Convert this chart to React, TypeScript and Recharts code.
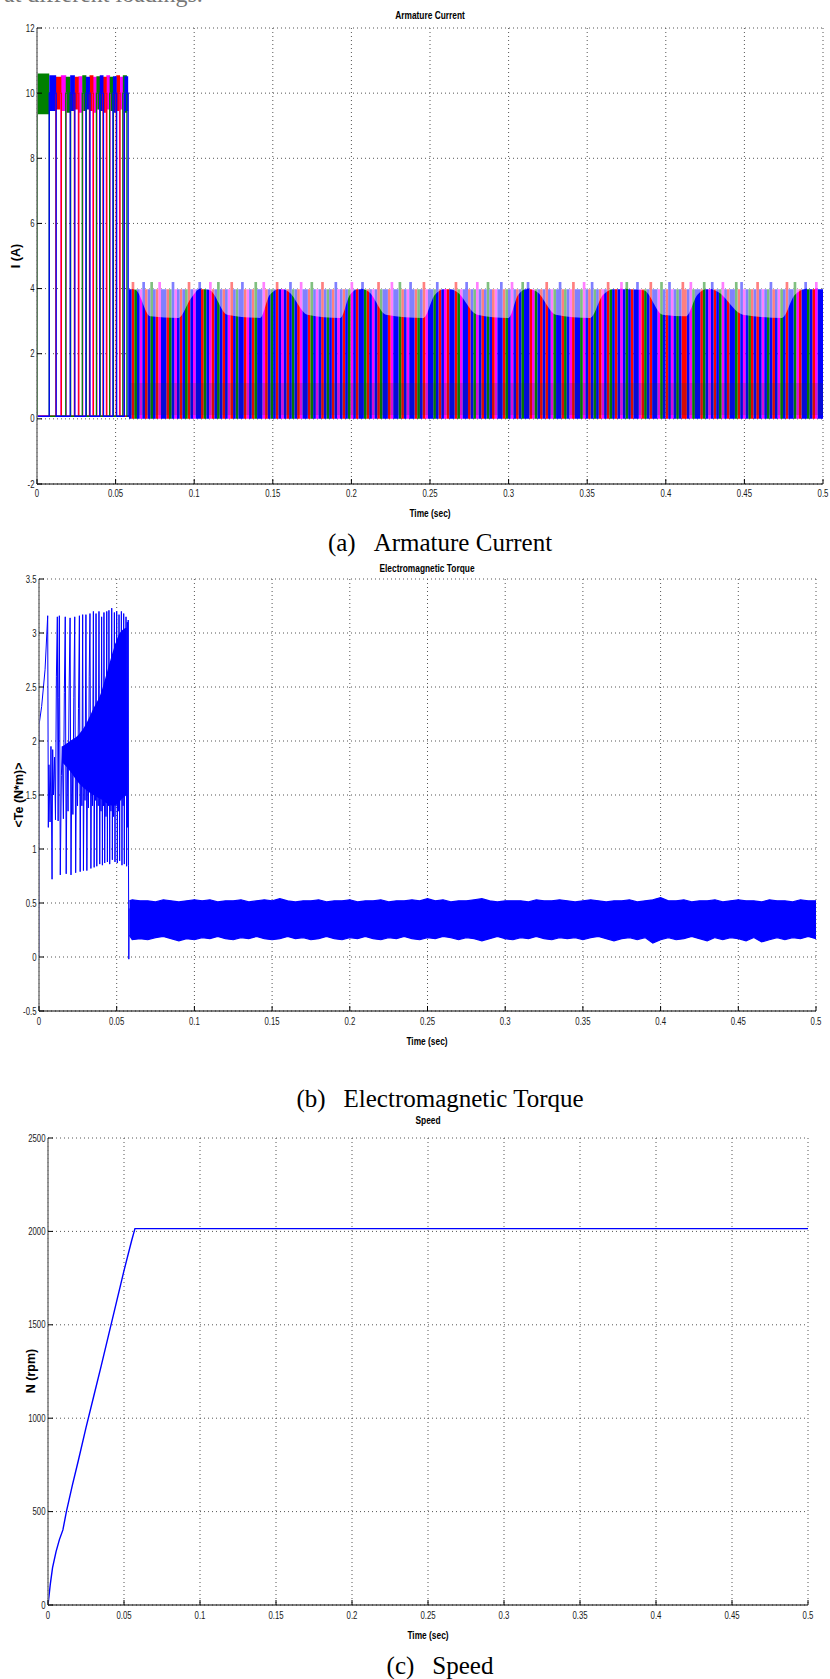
import React from 'react';
import { ComposedChart, Line, Area, XAxis, YAxis, CartesianGrid } from 'recharts';

// ---------- axis ticks ----------
const timeTicks = [0, 0.05, 0.1, 0.15, 0.2, 0.25, 0.3, 0.35, 0.4, 0.45, 0.5];
const currentTicks = [-2, 0, 2, 4, 6, 8, 10, 12];
const torqueTicks = [-0.5, 0, 0.5, 1, 1.5, 2, 2.5, 3, 3.5];
const speedTicks = [0, 500, 1000, 1500, 2000, 2500];

// ---------- (a) armature current, four phases ----------
const phaseColor: Record<string, string> = { g: '#008000', b: '#0000ff', r: '#ff0000', m: '#ff00ff' };
const phaseDrawOrder = ['m', 'r', 'g', 'b'];

// start-up: phases conduct in turn, chopped around 10 A
const startPhase = 'gbrmgbrmgbrmgbrmgbrmgb';
const startOn = [0.0002, 0.0078, 0.012, 0.0152, 0.0183, 0.0211, 0.0238, 0.0263, 0.0288, 0.0311, 0.0334,
  0.0356, 0.0378, 0.0399, 0.042, 0.0441, 0.0462, 0.0483, 0.0504, 0.0525, 0.0546, 0.0556];
const startOff = [0.0078, 0.0122, 0.0155, 0.0186, 0.0214, 0.0241, 0.0266, 0.0291, 0.0314, 0.0337, 0.0359,
  0.0381, 0.0402, 0.0423, 0.0444, 0.0465, 0.0486, 0.0507, 0.0528, 0.0549, 0.0572, 0.058];
const startRippleLo = [9.35, 9.45, 9.5, 9.45, 9.4, 9.45, 9.5, 9.4, 9.45, 9.5, 9.45, 9.4, 9.5, 9.45, 9.4,
  9.5, 9.45, 9.4, 9.45, 9.5, 9.4, 9.45];
const startRippleHi = [10.6, 10.55, 10.5, 10.55, 10.5, 10.55, 10.5, 10.52, 10.55, 10.5, 10.55, 10.5, 10.52,
  10.55, 10.5, 10.55, 10.5, 10.52, 10.55, 10.5, 10.55, 10.52];
const startLevel = 10;
const idleLevel = 0.08;
const startEnd = 0.0585;

// running: chopped around 4 A, one letter per conduction stripe (capital = overshoot)
const runFrom = 0.0585;
const runTo = 0.5;
const runStripes =
  'bRgbmBrbGbrMbbrgBmbr' + 'bgRbmbBrgbMrbGbrbmRb' + 'gbBrmbrGbbMrbgbRbmbr' + 'BgbrMbbrGbmbRbgbrBmb' +
  'rbgMbrbBgrbmbRgbbrMb' + 'bGrbmBbrgbRmbbgBrbmr' + 'bbRgmbBrbgMbrbGbrmbB' + 'rgbMbrbGbBrmgbrbRbmg' +
  'bBrgbmRbbgMbrBgbrmbR' + 'gbrbMbGbrbBmrgbRbbmG' + 'brBmbgbRrbMgbbrGbmBr' + 'bgMbrbbGrBmbgrbRbmbg' +
  'BrbmgbRbbGmrbBgbrMbb';
const runLevel = 3.98;
const runOvershoot = 4.2;

// lower edge of the hysteresis ripple zone at the top of the pulses
const rippleT = [0.0585, 0.063, 0.072, 0.09, 0.098, 0.104, 0.11, 0.121, 0.142, 0.148, 0.155, 0.16, 0.172,
  0.193, 0.199, 0.205, 0.211, 0.222, 0.246, 0.253, 0.26, 0.267, 0.28, 0.3, 0.306, 0.312, 0.318, 0.33, 0.352,
  0.36, 0.368, 0.386, 0.398, 0.413, 0.42, 0.427, 0.433, 0.449, 0.474, 0.482, 0.49, 0.5];
const rippleLo = [4.0, 3.95, 3.15, 3.1, 3.7, 4.0, 3.95, 3.2, 3.1, 3.8, 4.0, 3.9, 3.2, 3.1, 3.8, 4.0, 3.9,
  3.2, 3.1, 3.8, 4.0, 3.9, 3.2, 3.1, 3.8, 4.0, 3.9, 3.2, 3.1, 3.8, 4.0, 3.95, 3.2, 3.15, 3.8, 4.0, 3.9, 3.2,
  3.1, 3.8, 4.0, 4.0];
const rippleHi = 4.3;

// darker decay tails at the foot of the pulses
const tailLo = 0.12;
const tailHi = 1.1;

// ---------- (b) electromagnetic torque ----------
const torqueStartT = [0, 0.00005, 0.0017, 0.0039, 0.0056, 0.006, 0.0064, 0.0071, 0.0077, 0.0084,
  0.0088, 0.0093, 0.01, 0.0106, 0.0112, 0.0118, 0.0123, 0.0127, 0.0131, 0.0137,
  0.0144, 0.015, 0.0157, 0.0163, 0.0169, 0.0175, 0.0181, 0.0187, 0.0194, 0.02,
  0.0206, 0.0212, 0.0218, 0.0224, 0.023, 0.0236, 0.0242, 0.0248, 0.0254, 0.026,
  0.0265, 0.027, 0.0276, 0.0281, 0.0286, 0.0291, 0.0296, 0.0302, 0.0308, 0.0313,
  0.0318, 0.0323, 0.0328, 0.0334, 0.0339, 0.0344, 0.035, 0.0355, 0.036, 0.0363,
  0.0367, 0.0372, 0.0377, 0.0381, 0.0386, 0.0391, 0.0395, 0.0399, 0.0403, 0.0408,
  0.0412, 0.0415, 0.0418, 0.0423, 0.0427, 0.0431, 0.0436, 0.044, 0.0444, 0.0447,
  0.045, 0.0455, 0.0459, 0.0463, 0.0468, 0.0472, 0.0476, 0.048, 0.0485, 0.0489,
  0.0493, 0.0496, 0.05, 0.0504, 0.0508, 0.0511, 0.0515, 0.0519, 0.0523, 0.0526,
  0.053, 0.0534, 0.0538, 0.0541, 0.0545, 0.0549, 0.0553, 0.0556, 0.056, 0.0564,
  0.0568, 0.0571, 0.0574, 0.0576, 0.0578, 0.058];
const torqueStartV = [0, 2.15, 2.32, 2.66, 3.16, 1.2, 1.78, 1.25, 1.95, 0.72,
  1.92, 1.5, 1.85, 1.27, 2.6, 3.15, 1.26, 2.4, 3.16, 0.76,
  1.68, 1.95, 1.28, 2.45, 3.15, 0.77, 1.95, 1.35, 2.5, 3.14,
  0.76, 1.9, 1.32, 2.4, 3.15, 0.78, 1.95, 1.4, 2.3, 3.16,
  0.79, 2.0, 1.4, 3.17, 0.8, 1.95, 1.45, 3.17, 0.8, 2.05,
  1.38, 2.6, 3.18, 0.82, 2.0, 1.4, 3.2, 0.83, 2.1, 1.45,
  3.18, 0.84, 2.2, 1.4, 3.2, 0.86, 2.3, 1.35, 3.15, 0.85,
  2.4, 1.4, 3.19, 0.87, 2.5, 1.3, 3.2, 0.88, 2.6, 1.4,
  3.21, 0.86, 2.7, 1.35, 3.23, 0.9, 2.8, 1.3, 3.19, 0.88,
  2.9, 1.4, 3.2, 0.87, 2.85, 1.35, 3.17, 0.89, 2.9, 1.45,
  3.2, 0.85, 2.95, 1.4, 3.18, 0.86, 3.0, 1.5, 3.15, 0.84,
  3.1, 1.2, 3.12, 0.85, -0.02, 0.45];

// dense core of the start-up oscillation
const coreT = [0.015, 0.02, 0.025, 0.03, 0.035, 0.04, 0.044, 0.048, 0.052, 0.0565];
const coreLo = [1.8, 1.72, 1.62, 1.55, 1.5, 1.46, 1.42, 1.4, 1.45, 1.5];
const coreHi = [1.95, 2.0, 2.05, 2.15, 2.3, 2.45, 2.65, 2.85, 3.0, 3.05];

// steady-state ripple envelope
const bandT = [0.0582, 0.06, 0.065, 0.07, 0.075, 0.08, 0.085, 0.09, 0.095, 0.1, 0.105, 0.11, 0.115, 0.12,
  0.125, 0.13, 0.135, 0.14, 0.145, 0.15, 0.155, 0.16, 0.165, 0.17, 0.175, 0.18, 0.185, 0.19, 0.195, 0.2,
  0.205, 0.21, 0.215, 0.22, 0.225, 0.23, 0.235, 0.24, 0.245, 0.25, 0.255, 0.26, 0.265, 0.27, 0.275, 0.28,
  0.285, 0.29, 0.295, 0.3, 0.305, 0.31, 0.315, 0.32, 0.325, 0.33, 0.335, 0.34, 0.345, 0.35, 0.355, 0.36,
  0.365, 0.37, 0.375, 0.38, 0.385, 0.39, 0.395, 0.4, 0.405, 0.41, 0.415, 0.42, 0.425, 0.43, 0.435, 0.44,
  0.445, 0.45, 0.455, 0.46, 0.465, 0.47, 0.475, 0.48, 0.485, 0.49, 0.495, 0.5];
const bandHi = [0.52,
  0.53, 0.52, 0.52, 0.51, 0.53, 0.52, 0.51, 0.52, 0.53,
  0.52, 0.53, 0.51, 0.52, 0.52, 0.53, 0.51, 0.52, 0.53, 0.52,
  0.54, 0.52, 0.51, 0.52, 0.52, 0.53, 0.51, 0.52, 0.52, 0.53,
  0.51, 0.52, 0.52, 0.53, 0.51, 0.52, 0.52, 0.53, 0.52, 0.54,
  0.52, 0.53, 0.51, 0.52, 0.52, 0.53, 0.54, 0.52, 0.51, 0.52,
  0.52, 0.52, 0.51, 0.53, 0.52, 0.52, 0.53, 0.52, 0.51, 0.52,
  0.53, 0.52, 0.51, 0.52, 0.52, 0.53, 0.51, 0.52, 0.53, 0.55,
  0.52, 0.52, 0.53, 0.51, 0.52, 0.52, 0.53, 0.51, 0.52, 0.53,
  0.52, 0.52, 0.51, 0.53, 0.52, 0.52, 0.51, 0.53, 0.52, 0.52];
const bandLo = [0.2,
  0.16, 0.17, 0.16, 0.18, 0.19, 0.17, 0.15, 0.17, 0.16,
  0.18, 0.17, 0.19, 0.17, 0.16, 0.18, 0.17, 0.19, 0.17, 0.16,
  0.17, 0.19, 0.17, 0.18, 0.16, 0.17, 0.19, 0.17, 0.16, 0.18,
  0.17, 0.19, 0.17, 0.16, 0.18, 0.17, 0.19, 0.17, 0.16, 0.18,
  0.17, 0.19, 0.18, 0.16, 0.18, 0.17, 0.15, 0.17, 0.19, 0.17,
  0.16, 0.18, 0.17, 0.19, 0.17, 0.16, 0.18, 0.17, 0.18, 0.16,
  0.18, 0.19, 0.17, 0.15, 0.17, 0.18, 0.16, 0.18, 0.13, 0.16,
  0.18, 0.16, 0.17, 0.19, 0.17, 0.15, 0.18, 0.16, 0.18, 0.17,
  0.15, 0.18, 0.14, 0.16, 0.18, 0.16, 0.18, 0.17, 0.19, 0.17];

// ---------- (c) speed ----------
const speedT = [0, 0.0015, 0.003, 0.0053, 0.0075, 0.0098, 0.0121, 0.016, 0.02, 0.025, 0.03, 0.035, 0.04,
  0.045, 0.05, 0.055, 0.0572, 0.06, 0.1, 0.2, 0.3, 0.4, 0.5];
const speedN = [0, 110, 200, 286, 350, 402, 500, 640, 775, 950, 1115, 1280, 1450, 1620, 1790, 1950, 2015,
  2015, 2015, 2015, 2015, 2015, 2015];

// ---------- series builders ----------
type Pt = { t: number; v: number | number[] };

const pairs = (ts: number[], vs: number[]): Pt[] => ts.map((t, i) => ({ t, v: vs[i] }));
const ranges = (ts: number[], lo: number[], hi: number[]): Pt[] => ts.map((t, i) => ({ t, v: [lo[i], hi[i]] }));

const startEdges = (c: string): Pt[] => {
  const pts: Pt[] = [{ t: 0, v: idleLevel }];
  startOn.forEach((on, i) => {
    if (startPhase[i] !== c) return;
    const off = startOff[i];
    pts.push({ t: on, v: idleLevel }, { t: on, v: startLevel }, { t: off, v: startLevel }, { t: off, v: idleLevel });
  });
  pts.push({ t: startEnd, v: idleLevel });
  return pts;
};

const startRipple = (c: string): Pt[] => {
  const flat = [startLevel, startLevel];
  const pts: Pt[] = [{ t: 0, v: flat }];
  startOn.forEach((on, i) => {
    if (startPhase[i] !== c) return;
    const off = startOff[i];
    const band = [startRippleLo[i], startRippleHi[i]];
    pts.push({ t: on, v: flat }, { t: on, v: band }, { t: off, v: band }, { t: off, v: flat });
  });
  pts.push({ t: startEnd, v: flat });
  return pts;
};

const runPulses = (c: string): Pt[] => {
  const n = runStripes.length;
  const w = (runTo - runFrom) / n;
  const pts: Pt[] = [{ t: runFrom, v: 0 }];
  for (let i = 0; i < n; i++) {
    const ch = runStripes[i];
    if (ch.toLowerCase() !== c) continue;
    const h = ch === c ? runLevel : runOvershoot;
    const a = runFrom + i * w;
    const b = a + w;
    pts.push({ t: a, v: 0 }, { t: a, v: h }, { t: b, v: h }, { t: b, v: 0 });
  }
  pts.push({ t: runTo, v: 0 });
  return pts;
};

const rippleZone: Pt[] = rippleT.map((t, i) => ({ t, v: [rippleLo[i], rippleHi] }));
const tailZone: Pt[] = [{ t: runFrom, v: [tailLo, tailHi] }, { t: runTo, v: [tailLo, tailHi] }];

// ---------- MATLAB-style axes: inward ticks on all four sides ----------
const tickFont = { fontFamily: '"Liberation Sans", Arial, sans-serif', fontSize: 10, fill: '#1a1a1a' };

const bottomTick = (dy: number) => (p: any) => (
  <g>
    <line x1={p.x} x2={p.x} y1={p.y} y2={p.y - 5} stroke="#000" />
    <text transform={`translate(${p.x},${p.y + dy}) scale(0.78,1)`} textAnchor="middle" {...tickFont}>
      {p.payload.value}
    </text>
  </g>
);
const topTick = (p: any) => <line x1={p.x} x2={p.x} y1={p.y} y2={p.y + 5} stroke="#000" />;
const leftTick = (p: any) => (
  <g>
    <line x1={p.x} x2={p.x + 5} y1={p.y} y2={p.y} stroke="#000" />
    <text transform={`translate(${p.x - 2.5},${p.y + 3.5}) scale(0.78,1)`} textAnchor="end" {...tickFont}>
      {p.payload.value}
    </text>
  </g>
);
const rightTick = (p: any) => <line x1={p.x} x2={p.x - 5} y1={p.y} y2={p.y} stroke="#000" />;

const frameAxes = (yDomain: number[], yTicks: number[], yWidth: number, xHeight: number, labelDy: number) => [
  <XAxis key="xb" xAxisId={0} dataKey="t" type="number" domain={[0, 0.5]} ticks={timeTicks} interval={0}
    allowDataOverflow tickSize={0} tickMargin={0} tickLine={false} height={xHeight}
    axisLine={{ stroke: '#000' }} tick={bottomTick(labelDy)} />,
  <XAxis key="xt" xAxisId="top" orientation="top" dataKey="t" type="number" domain={[0, 0.5]} ticks={timeTicks}
    interval={0} allowDataOverflow tickSize={0} tickMargin={0} tickLine={false} height={0}
    axisLine={{ stroke: '#000', strokeWidth: 1.5 }} tick={topTick} />,
  <YAxis key="yl" yAxisId={0} type="number" domain={yDomain} ticks={yTicks} interval={0} allowDataOverflow
    tickSize={0} tickMargin={0} tickLine={false} width={yWidth}
    axisLine={{ stroke: '#7a7a7a', strokeWidth: 1.5 }} tick={leftTick} />,
  <YAxis key="yr" yAxisId="right" orientation="right" type="number" domain={yDomain} ticks={yTicks} interval={0}
    allowDataOverflow tickSize={0} tickMargin={0} tickLine={false} width={0}
    axisLine={{ stroke: '#333' }} tick={rightTick} />,
];

const grid = <CartesianGrid stroke="#555" strokeDasharray="1 3" />;

// ---------- text helpers ----------
const Txt = ({ x, y, size = 11, bold = false, narrow = 1, rotate = 0, serif = false, children }: any) => (
  <div
    style={{
      position: 'absolute',
      left: x,
      top: y,
      transform: `translate(-50%, -50%) rotate(${rotate}deg) scaleX(${narrow})`,
      whiteSpace: 'nowrap',
      fontSize: size,
      lineHeight: 1,
      fontWeight: bold ? 'bold' : 'normal',
      fontFamily: serif ? '"Liberation Serif", "Times New Roman", serif' : '"Liberation Sans", Arial, sans-serif',
      color: '#000',
    }}
  >
    {children}
  </div>
);

const Caption = ({ y, tag, text }: { y: number; tag: string; text: string }) => (
  <Txt x={440} y={y} size={25} serif>
    <span>{tag}</span>
    <span style={{ marginLeft: 18 }}>{text}</span>
  </Txt>
);

const CurrentChart = () => (
  <ComposedChart width={830} height={500} margin={{ top: 28, right: 7, left: 0, bottom: 0 }}>
    {grid}
    {phaseDrawOrder.map((c) => (
      <Area key={`run-${c}`} data={runPulses(c)} dataKey="v" type="linear" baseValue={0} stroke="none"
        fill={phaseColor[c]} fillOpacity={1} isAnimationActive={false} />
    ))}
    <Area data={tailZone} dataKey="v" type="linear" stroke="none" fill="#1e3c1e" fillOpacity={0.18}
      isAnimationActive={false} />
    <Area data={rippleZone} dataKey="v" type="monotone" stroke="none" fill="#ffffff" fillOpacity={0.5}
      isAnimationActive={false} />
    {phaseDrawOrder.map((c) => (
      <Area key={`rip-${c}`} data={startRipple(c)} dataKey="v" type="linear" stroke="none"
        fill={phaseColor[c]} fillOpacity={1} isAnimationActive={false} />
    ))}
    {phaseDrawOrder.map((c) => (
      <Line key={`edge-${c}`} data={startEdges(c)} dataKey="v" type="linear" stroke={phaseColor[c]}
        strokeWidth={1.3} dot={false} activeDot={false} isAnimationActive={false} />
    ))}
    {frameAxes([-2, 12], currentTicks, 37, 16, 12.5)}
  </ComposedChart>
);

const TorqueChart = () => (
  <ComposedChart width={830} height={480} margin={{ top: 29, right: 14, left: 0, bottom: 0 }}>
    {grid}
    <Area data={ranges(coreT, coreLo, coreHi)} dataKey="v" type="monotone" stroke="none" fill="#0000ff"
      fillOpacity={1} isAnimationActive={false} />
    <Area data={ranges(bandT, bandLo, bandHi)} dataKey="v" type="linear" stroke="#0000ff" strokeWidth={1.2}
      fill="#0000ff" fillOpacity={1} isAnimationActive={false} />
    <Line data={pairs(torqueStartT, torqueStartV)} dataKey="v" type="linear" stroke="#0000ff" strokeWidth={1}
      dot={false} activeDot={false} isAnimationActive={false} />
    {frameAxes([-0.5, 3.5], torqueTicks, 39, 19, 14)}
  </ComposedChart>
);

const SpeedChart = () => (
  <ComposedChart width={830} height={510} margin={{ top: 28, right: 22, left: 0, bottom: 0 }}>
    {grid}
    <Line data={pairs(speedT, speedN)} dataKey="v" type="linear" stroke="#0000ff" strokeWidth={1.4}
      dot={false} activeDot={false} isAnimationActive={false} />
    {frameAxes([0, 2500], speedTicks, 48, 15, 13.5)}
  </ComposedChart>
);

export default function App() {
  return (
    <div style={{ position: 'absolute', left: 0, top: 0, width: 830, height: 1679, background: '#fff', overflow: 'hidden' }}>
      <div style={{ position: 'absolute', left: 4, top: -19, fontSize: 24, color: '#777',
        fontFamily: '"Liberation Serif", "Times New Roman", serif', whiteSpace: 'nowrap' }}>
        at different loadings.
      </div>

      <div style={{ position: 'absolute', left: 0, top: 0 }}>
        <CurrentChart />
      </div>
      <Txt x={430} y={15} bold narrow={0.76}>Armature Current</Txt>
      <Txt x={16} y={256} size={12.5} bold rotate={-90}>I (A)</Txt>
      <Txt x={430} y={513} bold narrow={0.76}>Time (sec)</Txt>
      <Caption y={542} tag="(a)" text="Armature Current" />

      <div style={{ position: 'absolute', left: 0, top: 550 }}>
        <TorqueChart />
      </div>
      <Txt x={427} y={568} bold narrow={0.76}>Electromagnetic Torque</Txt>
      <Txt x={19} y={795} size={12.5} bold rotate={-90}>{'<Te (N*m)>'}</Txt>
      <Txt x={427} y={1041} bold narrow={0.76}>Time (sec)</Txt>
      <Caption y={1098} tag="(b)" text="Electromagnetic Torque" />

      <div style={{ position: 'absolute', left: 0, top: 1110 }}>
        <SpeedChart />
      </div>
      <Txt x={428} y={1120} bold narrow={0.76}>Speed</Txt>
      <Txt x={31} y={1371} size={12.5} bold rotate={-90}>N (rpm)</Txt>
      <Txt x={428} y={1635} bold narrow={0.76}>Time (sec)</Txt>
      <Caption y={1665} tag="(c)" text="Speed" />
    </div>
  );
}
